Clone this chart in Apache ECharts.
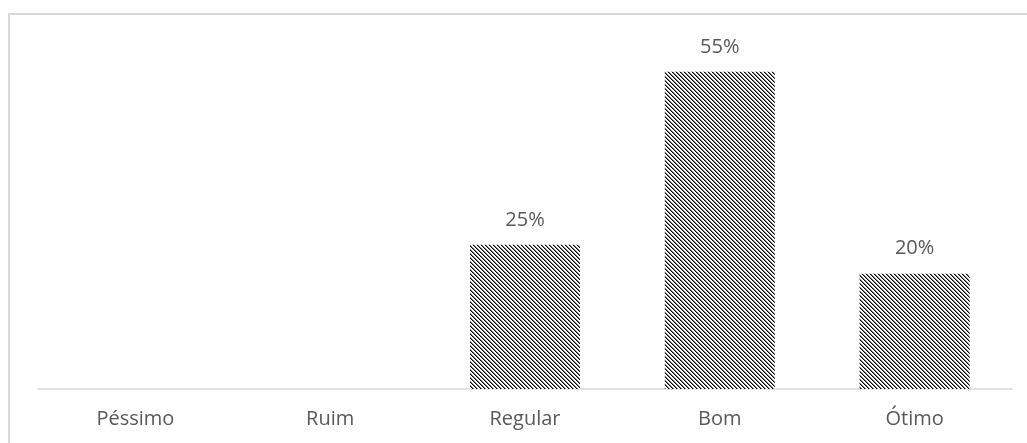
<!DOCTYPE html>
<html>
<head>
<meta charset="utf-8">
<script src="https://cdn.jsdelivr.net/npm/echarts@6/dist/echarts.min.js"></script>
<style>
  html, body { margin: 0; padding: 0; background: #fff; }
  #chart { width: 1027px; height: 443px; }
</style>
</head>
<body>
<div id="chart"></div>
<script>
// Avaliação: share of answers per rating
const categories = ['Péssimo', 'Ruim', 'Regular', 'Bom', 'Ótimo'];
const percentages = [0, 0, 25, 55, 20];

// Downward diagonal hatch fill (4px repeat)
function makeHatch() {
  const c = document.createElement('canvas');
  c.width = 4; c.height = 4;
  const ctx = c.getContext('2d');
  ctx.fillStyle = '#ffffff';
  ctx.fillRect(0, 0, 4, 4);
  for (let y = 0; y < 4; y++) {
    ctx.fillStyle = '#000000';
    ctx.fillRect(y, y, 1, 1);
    ctx.fillStyle = '#7f7f7f';
    ctx.fillRect((y + 1) % 4, y, 1, 1);
  }
  return c;
}

const textFont = '"Open Sans", Lato, sans-serif';

const chart = echarts.init(document.getElementById('chart'), null, { renderer: 'canvas' });
chart.setOption({
  backgroundColor: '#ffffff',
  animation: false,
  graphic: [{
    type: 'rect',
    shape: { x: 9, y: 14, width: 1040, height: 460 },
    style: { fill: 'none', stroke: '#d9d9d9', lineWidth: 2 },
    silent: true
  }],
  grid: { left: 38, right: 15, top: 43, bottom: 54 },
  xAxis: {
    type: 'category',
    data: categories,
    axisTick: { show: false },
    axisLine: { lineStyle: { color: '#d9d9d9', width: 1.5 } },
    axisLabel: {
      color: '#595959',
      fontFamily: textFont,
      fontSize: 20,
      margin: 20
    }
  },
  yAxis: {
    type: 'value',
    min: 0,
    max: 60,
    show: false,
    splitLine: { show: false }
  },
  series: [{
    type: 'bar',
    data: percentages,
    barWidth: 110,
    itemStyle: {
      color: { image: makeHatch(), repeat: 'repeat' }
    },
    label: {
      show: true,
      position: 'top',
      distance: 15,
      color: '#595959',
      fontFamily: textFont,
      fontSize: 20,
      formatter: p => (p.value ? p.value + '%' : '')
    }
  }]
});
</script>
</body>
</html>
